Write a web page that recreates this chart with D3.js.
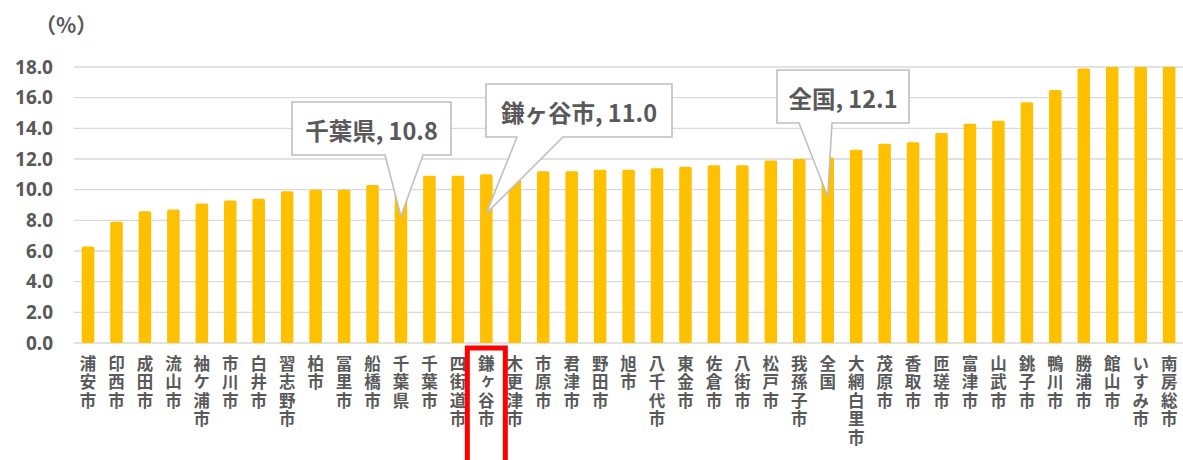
<!DOCTYPE html>
<html>
<head>
<meta charset="utf-8">
<script src="https://cdn.jsdelivr.net/npm/d3@7"></script>
<style>
  body { margin: 0; background: #fff; }
  svg { font-family: "Noto Sans CJK JP", "Noto Sans", sans-serif; }
</style>
</head>
<body>
<div id="chart"></div>
<script>
var cities = ['浦安市', '印西市', '成田市', '流山市', '袖ケ浦市', '市川市', '白井市', '習志野市', '柏市', '冨里市',
    '船橋市', '千葉県', '千葉市', '四街道市', '鎌ヶ谷市', '木更津市', '市原市', '君津市', '野田市', '旭市',
    '八千代市', '東金市', '佐倉市', '八街市', '松戸市', '我孫子市', '全国', '大網白里市', '茂原市', '香取市',
    '匝瑳市', '富津市', '山武市', '銚子市', '鴨川市', '勝浦市', '館山市', 'いすみ市', '南房総市'];
var rates = [6.3, 7.9, 8.6, 8.7, 9.1, 9.3, 9.4, 9.9, 10.0, 10.0,
    10.3, 10.8, 10.9, 10.9, 11.0, 11.1, 11.2, 11.2, 11.3, 11.3,
    11.4, 11.5, 11.6, 11.6, 11.9, 12.0, 12.1, 12.6, 13.0, 13.1,
    13.7, 14.3, 14.5, 15.7, 16.5, 17.9, 18.6, 19.3, 20.2];
var yTicks = [0, 2, 4, 6, 8, 10, 12, 14, 16, 18];
var callouts = ['千葉県', '鎌ヶ谷市', '全国'];
var highlight = '鎌ヶ谷市';

// callout box layout (box left/top/width/height, pointer base x's)
var calloutBoxes = {
    '千葉県': { x: 292, y: 102, w: 159, h: 53, b1: 385, b2: 423 },
    '鎌ヶ谷市': { x: 486, y: 84, w: 186, h: 53, b1: 517, b2: 563 },
    '全国': { x: 777, y: 70, w: 132, h: 53, b1: 799, b2: 832 }
};

var width = 1183, height = 460;
var svg = d3.select('#chart').append('svg')
    .attr('width', width)
    .attr('height', height);

var step = 28.45;
var x = d3.scaleBand()
    .domain(cities)
    .range([73.8, 73.8 + step * cities.length])
    .paddingInner(0.56)
    .paddingOuter(0.28);
var y = d3.scaleLinear()
    .domain([0, 18])
    .range([343, 67]);

var grey = '#595959';

// gridlines
svg.append('g').selectAll('line').data(yTicks).enter()
    .append('line')
    .attr('x1', 74).attr('x2', width)
    .attr('y1', d => y(d)).attr('y2', d => y(d))
    .attr('stroke', '#d9d9d9')
    .attr('stroke-width', 1.4);

// y axis labels
let yAxis = d3.axisLeft(y).tickValues(yTicks).tickFormat(d3.format('.1f')).tickSize(0).tickPadding(0);
let yg = svg.append('g')
    .attr('transform', 'translate(53,0)')
    .call(yAxis);
yg.select('.domain').remove();
yg.selectAll('text')
    .attr('fill', grey)
    .attr('font-size', 19)
    .attr('font-weight', 'bold')
    .attr('font-family', '"Noto Sans", sans-serif');

svg.append('text')
    .attr('x', 35).attr('y', 33)
    .attr('fill', grey)
    .attr('font-size', 21)
    .attr('font-weight', 'bold')
    .text('（%）');

// bars (clipped at the 18.0 axis max)
svg.append('clipPath').attr('id', 'plotclip')
    .append('rect').attr('x', 0).attr('y', y(18)).attr('width', width).attr('height', y(0) - y(18) + 2);

svg.append('g').attr('clip-path', 'url(#plotclip)')
    .selectAll('rect').data(cities).enter()
    .append('rect')
    .attr('x', d => x(d))
    .attr('y', (d, i) => y(Math.min(rates[i], 18.3)))
    .attr('width', x.bandwidth())
    .attr('height', (d, i) => y(0) - y(Math.min(rates[i], 18.3)))
    .attr('rx', 1.5)
    .attr('fill', '#FFC000');

// x labels, vertical text
svg.append('g').selectAll('text').data(cities).enter()
    .append('text')
    .attr('x', d => x(d) + x.bandwidth() / 2)
    .attr('y', 355)
    .style('writing-mode', 'vertical-rl')
    .style('text-orientation', 'upright')
    .style('letter-spacing', '2px')
    .attr('fill', grey)
    .attr('font-size', 16.5)
    .attr('font-weight', 'bold')
    .text(d => d);

// red highlight box
svg.append('rect')
    .attr('x', x(highlight) + x.bandwidth() / 2 - 19)
    .attr('y', 348)
    .attr('width', 38)
    .attr('height', 120)
    .attr('fill', 'none')
    .attr('stroke', '#FF0000')
    .attr('stroke-width', 5);

// callouts
callouts.forEach(name => {
    let i = cities.indexOf(name);
    let b = calloutBoxes[name];
    let tx = x(name) + x.bandwidth() / 2;
    let ty = y(rates[i]) + 39;
    let bottom = b.y + b.h;
    let path = [
        [b.x, b.y], [b.x + b.w, b.y], [b.x + b.w, bottom],
        [b.b2, bottom], [tx, ty], [b.b1, bottom], [b.x, bottom]
    ];
    svg.append('path')
        .attr('d', d3.line()(path) + 'Z')
        .attr('fill', '#fff')
        .attr('stroke', '#bfbfbf')
        .attr('stroke-width', 1.6);
    svg.append('text')
        .attr('x', b.x + b.w / 2)
        .attr('y', b.y + b.h / 2 + 1)
        .attr('text-anchor', 'middle')
        .attr('dominant-baseline', 'central')
        .attr('fill', grey)
        .attr('font-size', 23.5)
        .attr('font-weight', 'bold')
        .text(name + ', ' + d3.format('.1f')(rates[i]));
});
</script>
</body>
</html>
